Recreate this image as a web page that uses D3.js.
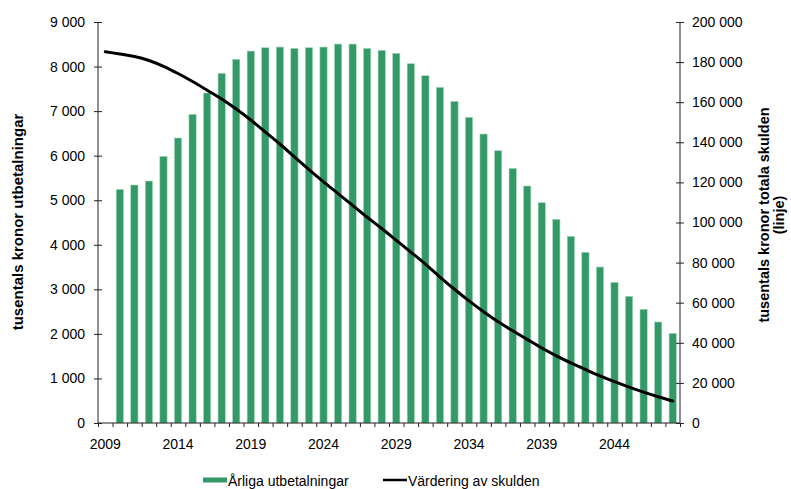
<!DOCTYPE html>
<html>
<head>
<meta charset="utf-8">
<script src="https://cdn.jsdelivr.net/npm/d3@7"></script>
<style>
  body { margin: 0; background: #fff; }
  svg { font-family: "Liberation Sans", Arial, sans-serif; }
  .domain { stroke: #222; }
  .tick line { stroke: #222; }
  .tick text { fill: #000; font-size: 14px; }
</style>
</head>
<body>
<div id="chart"></div>
<script>
// years on the category axis
var years = d3.range(2009, 2049);
var labelYears = [2009, 2014, 2019, 2024, 2029, 2034, 2039, 2044];

// annual payments (left axis), no bar for 2009
var payYears = d3.range(2010, 2049);
var payments = [5245, 5341, 5431, 5985, 6396, 6928, 7406, 7848, 8162, 8348,
  8423, 8438, 8409, 8423, 8438, 8505, 8505, 8409, 8364, 8297,
  8063, 7794, 7533, 7219, 6860, 6486, 6111, 5716, 5319, 4944,
  4571, 4190, 3831, 3501, 3158, 2843, 2552, 2267, 2013];

// valuation of the debt (right axis)
var debt = [185200, 184000, 182800, 180800, 177900, 174300, 170300, 166000, 161600, 156600,
  151100, 145100, 139150, 132700, 126400, 120300, 114400, 108500, 102600, 97000,
  91100, 85200, 79250, 72800, 66700, 60900, 55500, 50500, 46000, 41700,
  37400, 33500, 30000, 26700, 23500, 20600, 17900, 15400, 13100, 11000];

var leftTicks = d3.range(0, 9001, 1000);
var rightTicks = d3.range(0, 200001, 20000);

var svgWidth = 791, svgHeight = 489;
var plot = { left: 98, right: 680, top: 22, bottom: 423 };

var svg = d3.select("#chart").append("svg")
  .attr("width", svgWidth)
  .attr("height", svgHeight);

var fmt = d3.formatLocale({ decimal: ",", thousands: " ", grouping: [3], currency: ["", ""] }).format(",d");

var x = d3.scaleBand()
  .domain(years)
  .range([plot.left, plot.right])
  .paddingInner(0.5)
  .paddingOuter(0.25);

var xEdge = d3.scaleLinear()
  .domain([0, years.length])
  .range([plot.left, plot.right]);

var yLeft = d3.scaleLinear().domain([0, 9000]).range([plot.bottom, plot.top]);
var yRight = d3.scaleLinear().domain([0, 200000]).range([plot.bottom, plot.top]);

// bars
svg.append("g").selectAll("rect")
  .data(payYears)
  .enter()
  .append("rect")
  .attr("x", d => x(d))
  .attr("width", x.bandwidth())
  .attr("y", (d, i) => yLeft(payments[i]))
  .attr("height", (d, i) => plot.bottom - yLeft(payments[i]))
  .attr("fill", "#339966")
  .attr("stroke", "#a8d8bc")
  .attr("stroke-width", 0.6);

// line
var line = d3.line()
  .x((d, i) => x(years[i]) + x.bandwidth() / 2)
  .y(d => yRight(d))
  .curve(d3.curveMonotoneX);

svg.append("path")
  .datum(debt)
  .attr("d", line)
  .attr("fill", "none")
  .attr("stroke", "#000")
  .attr("stroke-width", 3)
  .attr("stroke-linecap", "round");

// left axis
svg.append("g")
  .attr("transform", `translate(${plot.left},0)`)
  .call(d3.axisLeft(yLeft).tickValues(leftTicks).tickFormat(fmt).tickSize(4).tickPadding(9))
  .call(g => g.selectAll(".tick line").attr("x1", 4))
  .call(g => g.select(".domain").attr("d", `M0,${plot.top}V${plot.bottom}`));

// right axis
svg.append("g")
  .attr("transform", `translate(${plot.right},0)`)
  .call(d3.axisRight(yRight).tickValues(rightTicks).tickFormat(fmt).tickSize(4).tickPadding(8))
  .call(g => g.selectAll(".tick line").attr("x1", -4))
  .call(g => g.select(".domain").attr("d", `M0,${plot.top}V${plot.bottom}`).attr("stroke", "#555"));

// bottom axis: tick marks between categories
svg.append("g")
  .attr("transform", `translate(0,${plot.bottom})`)
  .call(d3.axisBottom(xEdge).ticks(years.length).tickFormat("").tickSize(4))
  .call(g => g.select(".domain").attr("d", `M${plot.left},0H${plot.right}`));

// bottom axis labels
svg.append("g")
  .attr("transform", `translate(0,${plot.bottom})`)
  .call(d3.axisBottom(x).tickValues(labelYears).tickSize(0).tickPadding(16))
  .call(g => g.select(".domain").remove());

// axis titles
svg.append("text")
  .attr("transform", `translate(23,222) rotate(-90)`)
  .attr("text-anchor", "middle")
  .attr("font-size", "15px")
  .attr("font-weight", "bold")
  .text("tusentals kronor utbetalningar");

var rt = svg.append("text")
  .attr("transform", `translate(769,215) rotate(-90)`)
  .attr("text-anchor", "middle")
  .attr("font-size", "14.5px")
  .attr("font-weight", "bold");
rt.append("tspan").attr("x", 0).attr("dy", 0).text("tusentals kronor totala skulden");
rt.append("tspan").attr("x", 0).attr("dy", "1.0em").text("(linje)");

// legend
var legend = svg.append("g").attr("font-size", "14px");
legend.append("rect")
  .attr("x", 203).attr("y", 477.5).attr("width", 24).attr("height", 5)
  .attr("fill", "#339966");
legend.append("text").attr("x", 228).attr("y", 485.5).text("Årliga utbetalningar");
legend.append("line")
  .attr("x1", 383).attr("x2", 407).attr("y1", 480).attr("y2", 480)
  .attr("stroke", "#000").attr("stroke-width", 2.5);
legend.append("text").attr("x", 408).attr("y", 485.5).text("Värdering av skulden");
</script>
</body>
</html>
